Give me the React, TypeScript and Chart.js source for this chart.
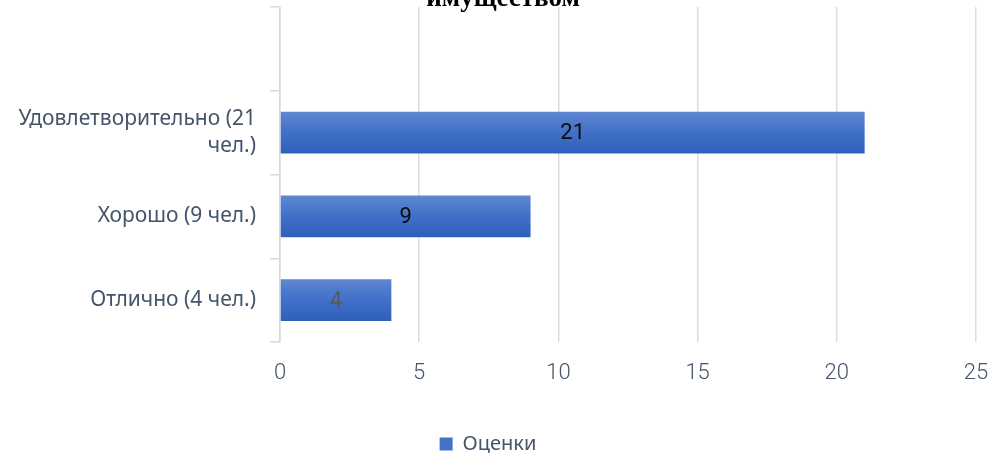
import React, { useEffect, useRef } from "react";
import { Chart, registerables } from "chart.js";

Chart.register(...registerables);

const titleText = "имуществом";
const seriesName = "Оценки";
const categories = ["", "Удовлетворительно (21 чел.)", "Хорошо (9 чел.)", "Отлично (4 чел.)"];
const values: (number | null)[] = [null, 21, 9, 4];
const xMin = 0;
const xMax = 25;
const xStep = 5;

const TEXT = "#44546a";
const GRID = "#d9dde4";
const labelColors = ["#000000", "#0d0d0d", "#0d0d0d", "#595959"];

function wrap(s: string, max = 22): string | string[] {
  if (s.length <= max) return s;
  const cut = s.lastIndexOf(" ", max);
  if (cut <= 0) return s;
  return [s.slice(0, cut), s.slice(cut + 1)];
}

const titlePlugin = {
  id: "cutTitle",
  afterDraw(chart: any) {
    const ctx = chart.ctx;
    ctx.save();
    ctx.font = "bold 27px 'Liberation Serif', serif";
    ctx.fillStyle = "#000000";
    ctx.textAlign = "center";
    ctx.textBaseline = "alphabetic";
    ctx.fillText(titleText, chart.width / 2 + 7, 6);
    ctx.restore();
  },
};

const valueLabels = {
  id: "valueLabels",
  afterDatasetsDraw(chart: any) {
    const ctx = chart.ctx;
    const meta = chart.getDatasetMeta(0);
    ctx.save();
    ctx.font = "22px Roboto, sans-serif";
    ctx.textAlign = "center";
    ctx.textBaseline = "middle";
    meta.data.forEach((el: any, i: number) => {
      const v = values[i];
      if (v == null) return;
      ctx.fillStyle = labelColors[i];
      ctx.fillText(String(v), (el.x + el.base) / 2, el.y + 1);
    });
    ctx.restore();
  },
};

export default function App() {
  const ref = useRef<HTMLCanvasElement>(null);
  useEffect(() => {
    if (!ref.current) return;
    const chart = new Chart(ref.current, {
      type: "bar",
      data: {
        labels: categories.map((c) => wrap(c)),
        datasets: [
          {
            label: seriesName,
            data: values,
            categoryPercentage: 1,
            barPercentage: 0.5,
            borderWidth: 0,
            backgroundColor: (c: any) => {
              const ch = c.chart;
              const area = ch.chartArea;
              if (!area || c.type !== "data") return "#4472c4";
              const y = ch.scales.y.getPixelForValue(c.dataIndex);
              const h = ((area.bottom - area.top) / categories.length) * 0.5;
              const g = ch.ctx.createLinearGradient(0, y - h / 2, 0, y + h / 2);
              g.addColorStop(0, "#5f86d1");
              g.addColorStop(0.5, "#4070c8");
              g.addColorStop(1, "#2e5fb9");
              return g;
            },
          },
        ],
      },
      options: {
        indexAxis: "y",
        responsive: false,
        maintainAspectRatio: false,
        animation: false,
        layout: { padding: { top: 7, left: 0, right: 16, bottom: -7 } },
        scales: {
          x: {
            min: xMin,
            max: xMax,
            ticks: {
              stepSize: xStep,
              color: TEXT,
              padding: 18,
              font: { family: "Roboto", size: 22, weight: "300" },
            },
            grid: { color: GRID, drawTicks: false, lineWidth: 1.5 },
            border: { display: false },
            afterFit: (s: any) => {
              s.height = 92;
              s.paddingLeft = 0;
              s.paddingRight = 0;
            },
          },
          y: {
            ticks: {
              color: TEXT,
              padding: 14,
              font: { family: "'Noto Sans'", size: 21, lineHeight: 1.3 },
            },
            grid: { drawOnChartArea: false, drawTicks: true, tickLength: 10, color: "#d9d9d9", offset: true, lineWidth: 1.5 },
            border: { display: true, color: "#d9d9d9", width: 1.5 },
            afterFit: (s: any) => {
              s.width = 280;
              s.paddingTop = 0;
              s.paddingBottom = 0;
            },
          },
        },
        plugins: {
          title: { display: false },
          tooltip: { enabled: false },
          legend: {
            position: "bottom",
            labels: {
              color: TEXT,
              boxWidth: 13,
              boxHeight: 13,
              padding: 0,
              font: { family: "'Noto Sans'", size: 20 },
              generateLabels: () => [
                {
                  text: seriesName,
                  fillStyle: "#4472c4",
                  strokeStyle: "#4472c4",
                  lineWidth: 0,
                  hidden: false,
                  datasetIndex: 0,
                  fontColor: TEXT,
                },
              ],
            },
          },
        },
      },
      plugins: [titlePlugin, valueLabels],
    } as any);
    return () => chart.destroy();
  }, []);
  return (
    <div style={{ position: "absolute", left: 0, top: 0, width: 992, height: 457, overflow: "hidden", background: "#fff" }}>
      <canvas ref={ref} width={992} height={457} style={{ display: "block" }} />
    </div>
  );
}
